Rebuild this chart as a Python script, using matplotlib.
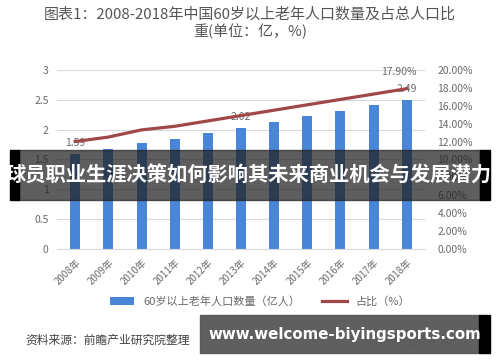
import matplotlib.pyplot as plt
from matplotlib.patches import Rectangle

plt.rcParams['font.family'] = ['Noto Sans CJK SC', 'DejaVu Sans']

# ----------------------------------------------------------
# data
# ----------------------------------------------------------
years = ['2008年', '2009年', '2010年', '2011年', '2012年', '2013年',
         '2014年', '2015年', '2016年', '2017年', '2018年']
elderly = [1.59, 1.67, 1.78, 1.85, 1.94, 2.02, 2.12, 2.22, 2.31, 2.41, 2.49]
share = [12.0, 12.5, 13.3, 13.7, 14.3, 14.9, 15.5, 16.1, 16.7, 17.3, 17.9]
left_ticks = [0, 0.5, 1, 1.5, 2, 2.5, 3]
left_labels = ['0', '0.5', '1', '1.5', '2', '2.5', '3']
right_ticks = [0, 2, 4, 6, 8, 10, 12, 14, 16, 18, 20]
right_labels = ['%.2f%%' % v for v in right_ticks]

grey = '#6a6a6a'
blue = '#4a86d8'
red = '#a0474a'

# ----------------------------------------------------------
# figure
# ----------------------------------------------------------
fig = plt.figure(figsize=(5, 3.62), dpi=100)
ax = fig.add_axes([0.114, 0.312, 0.736, 0.495])
x = list(range(len(years)))

ax.bar(x, elderly, width=0.3, color=blue, zorder=2,
       label='60岁以上老年人口数量（亿人）')
ax.set_ylim(0, 3)
ax.set_xlim(-0.55, len(years) - 0.45)
ax.set_yticks(left_ticks)
ax.set_yticklabels(left_labels, fontsize=7.5, color=grey)
ax.set_xticks(x)
ax.set_xticklabels(years, rotation=45, ha='right', rotation_mode='anchor',
                   fontsize=7, color=grey)
ax.grid(axis='y', color='#d9d9d9', linewidth=0.8, zorder=0)
ax.tick_params(length=0, pad=6)
for s in ax.spines.values():
	s.set_visible(False)
ax.spines['bottom'].set_visible(True)
ax.spines['bottom'].set_color('#d9d9d9')

ax2 = ax.twinx()
ax2.plot(x, share, color=red, linewidth=2.3, zorder=3, label='占比（%）')
ax2.set_ylim(0, 20)
ax2.set_yticks(right_ticks)
ax2.set_yticklabels(right_labels, fontsize=7.5, color=grey)
ax2.tick_params(length=0, pad=9)
for s in ax2.spines.values():
	s.set_visible(False)

# data labels
for i in [0, 5, 10]:
	ax.annotate('%.2f' % elderly[i], (x[i], elderly[i]), xytext=(0, 6),
	            textcoords='offset points', ha='center', fontsize=7.5, color=grey)
ax2.annotate('%.2f%%' % share[-1], (x[-1], share[-1]), xytext=(-6, 10),
             textcoords='offset points', ha='center', fontsize=7.5, color=grey)

# title
fig.text(0.5, 0.96, '图表1：2008-2018年中国60岁以上老年人口数量及占总人口比',
         ha='center', va='center', fontsize=10.8, color='#555555')
fig.text(0.5, 0.912, '重(单位：亿，%)', ha='center', va='center',
         fontsize=10.8, color='#555555')

# legend
h1, l1 = ax.get_legend_handles_labels()
h2, l2 = ax2.get_legend_handles_labels()
fig.legend(h1 + h2, l1 + l2, loc='center', bbox_to_anchor=(0.52, 0.166),
           ncol=2, frameon=False, fontsize=8, handlelength=2.2,
           columnspacing=2.0, labelcolor=grey)

# source
fig.text(0.05, 0.06, '资料来源：前瞻产业研究院整理', fontsize=8.5,
         color='#404040', style='italic', va='center')
fig.text(0.945, 0.06, '@前瞻经济学人APP', fontsize=8.5, color='#404040',
         ha='right', va='center')

# overlay bands
H = 362.0
def band(x0, x1, y0, y1, color, alpha):
	fig.patches.append(Rectangle((x0 / 500, 1 - y1 / H), (x1 - x0) / 500,
	                             (y1 - y0) / H, transform=fig.transFigure,
	                             color=color, alpha=alpha, zorder=10))

band(19, 480, 150, 200, '#202020', 0.72)
band(10, 19, 150, 200, 'black', 1)
band(480, 490, 150, 200, 'black', 1)
fig.text(249 / 500, 1 - 175 / H, '球员职业生涯决策如何影响其未来商业机会与发展潜力',
         ha='center', va='center', fontsize=14.6, fontweight='bold',
         color='white', zorder=11)

band(200, 479, 315, 353, '#5a5a5a', 0.97)
band(479, 490, 315, 353, 'black', 1)
fig.text(345 / 500, 1 - 334 / H, 'www.welcome-biyingsports.com', ha='center',
         va='center', fontsize=10.8, fontweight='bold', color='white',
         family='DejaVu Sans', zorder=11)

plt.savefig('out.png', dpi=100)
